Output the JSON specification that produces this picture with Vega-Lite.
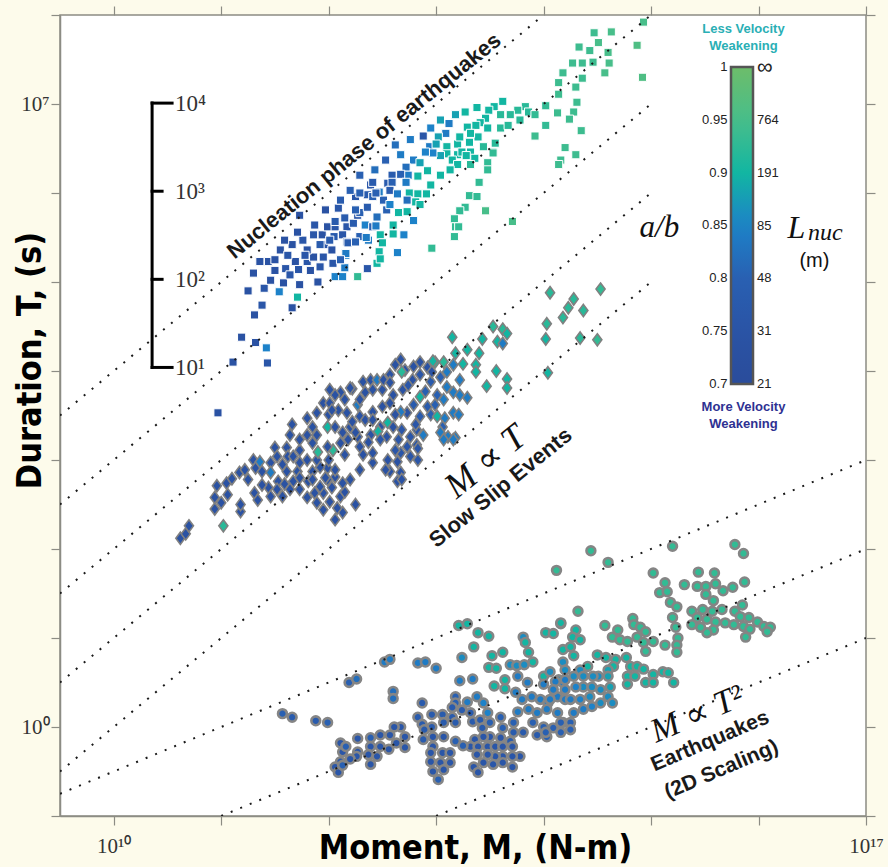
{
"$schema":"https://vega.github.io/schema/vega-lite/v6.json",
"width":806,"height":801,
"autosize":{"type":"none"},
"padding":{"left":60,"top":15,"right":22,"bottom":51},
"background":"#fdfbeb",
"config":{"view":{"fill":"white","stroke":"#8c8c84","strokeWidth":1.5},"font":"Liberation Sans","axis":{"grid":false,"tickColor":"#8c8c84","domainColor":"#8c8c84","tickSize":9,"tickWidth":1.2,"domainWidth":1.5,"labelOverlap":false,"labelFlush":false}},
"datasets":{
"lines":[{"id":"a","x":9.5,"y":3.5},{"id":"a","x":14,"y":8},{"id":"b","x":9.5,"y":2.5},{"id":"b","x":15,"y":8},{"id":"c","x":9.5,"y":1.5},{"id":"c","x":15,"y":7},{"id":"d","x":9.5,"y":0.5},{"id":"d","x":15,"y":6},{"id":"e","x":9.5,"y":-0.5},{"id":"e","x":15,"y":5},{"id":"f","x":9.5,"y":-0.75},{"id":"f","x":17,"y":3},{"id":"g","x":11,"y":-1},{"id":"g","x":17,"y":2},{"id":"h","x":13,"y":-1},{"id":"h","x":17,"y":1}],
"squares":[{"x":11.11,"y":4.10,"c":0.74},{"x":11.43,"y":4.09,"c":0.76},{"x":11.42,"y":4.26,"c":0.85},{"x":11.32,"y":4.32,"c":0.74},{"x":11.19,"y":4.38,"c":0.74},{"x":11.31,"y":4.63,"c":0.74},{"x":11.38,"y":4.74,"c":0.76},{"x":11.66,"y":4.71,"c":0.74},{"x":11.25,"y":4.90,"c":0.74},{"x":11.40,"y":4.93,"c":0.76},{"x":11.30,"y":5.10,"c":0.74},{"x":11.54,"y":4.89,"c":0.85},{"x":11.71,"y":4.83,"c":0.9},{"x":11.58,"y":4.99,"c":0.74},{"x":11.50,"y":5.13,"c":0.74},{"x":11.60,"y":5.15,"c":0.76},{"x":11.69,"y":5.23,"c":0.74},{"x":11.72,"y":5.14,"c":0.76},{"x":11.83,"y":5.13,"c":0.74},{"x":11.92,"y":5.17,"c":0.76},{"x":11.90,"y":5.00,"c":0.74},{"x":11.80,"y":5.23,"c":0.76},{"x":11.86,"y":5.28,"c":0.74},{"x":11.95,"y":5.28,"c":0.76},{"x":11.36,"y":5.23,"c":0.74},{"x":11.44,"y":5.23,"c":0.74},{"x":11.55,"y":5.36,"c":0.74},{"x":11.62,"y":5.30,"c":0.76},{"x":11.66,"y":5.42,"c":0.74},{"x":11.76,"y":5.47,"c":0.76},{"x":11.80,"y":5.36,"c":0.74},{"x":11.71,"y":5.56,"c":0.74},{"x":11.86,"y":5.53,"c":0.76},{"x":11.94,"y":5.53,"c":0.74},{"x":11.96,"y":5.42,"c":0.76},{"x":12.03,"y":5.36,"c":0.74},{"x":12.04,"y":5.21,"c":0.76},{"x":11.99,"y":5.62,"c":0.74},{"x":12.06,"y":5.62,"c":0.76},{"x":11.97,"y":5.81,"c":0.74},{"x":12.09,"y":5.83,"c":0.76},{"x":12.15,"y":5.72,"c":0.78},{"x":12.17,"y":5.62,"c":0.76},{"x":12.13,"y":5.53,"c":0.76},{"x":12.17,"y":5.45,"c":0.78},{"x":12.16,"y":5.30,"c":0.85},{"x":12.06,"y":5.06,"c":0.85},{"x":12.15,"y":5.16,"c":0.84},{"x":12.27,"y":5.06,"c":0.93},{"x":12.23,"y":5.66,"c":0.78},{"x":12.27,"y":5.75,"c":0.76},{"x":12.29,"y":5.78,"c":0.8},{"x":12.25,"y":5.96,"c":0.76},{"x":12.36,"y":5.98,"c":0.78},{"x":12.39,"y":6.09,"c":0.76},{"x":12.47,"y":6.01,"c":0.84},{"x":12.54,"y":5.81,"c":0.8},{"x":12.36,"y":5.84,"c":0.78},{"x":12.45,"y":5.73,"c":0.82},{"x":12.34,"y":5.64,"c":0.85},{"x":12.41,"y":5.62,"c":0.8},{"x":12.37,"y":5.47,"c":0.84},{"x":12.48,"y":5.53,"c":0.9},{"x":12.50,"y":5.44,"c":0.9},{"x":12.47,"y":5.34,"c":0.9},{"x":12.45,"y":5.21,"c":0.9},{"x":12.36,"y":5.15,"c":0.76},{"x":12.55,"y":6.11,"c":0.78},{"x":12.29,"y":5.51,"c":0.8},{"x":12.18,"y":5.44,"c":0.78},{"x":12.79,"y":6.37,"c":0.84},{"x":12.72,"y":6.29,"c":0.82},{"x":12.85,"y":6.34,"c":0.88},{"x":12.92,"y":6.25,"c":0.9},{"x":12.83,"y":6.19,"c":0.9},{"x":12.74,"y":6.20,"c":0.84},{"x":12.67,"y":6.21,"c":0.8},{"x":12.59,"y":6.20,"c":0.78},{"x":12.59,"y":6.12,"c":0.8},{"x":12.72,"y":6.12,"c":0.84},{"x":12.57,"y":6.03,"c":0.78},{"x":12.64,"y":5.99,"c":0.84},{"x":12.75,"y":6.00,"c":0.9},{"x":12.83,"y":5.99,"c":0.9},{"x":12.91,"y":5.99,"c":0.9},{"x":12.81,"y":5.90,"c":0.9},{"x":12.73,"y":5.92,"c":0.82},{"x":12.65,"y":5.78,"c":0.9},{"x":12.73,"y":5.79,"c":0.9},{"x":12.79,"y":5.69,"c":0.85},{"x":12.60,"y":5.64,"c":0.9},{"x":12.60,"y":5.54,"c":0.9},{"x":12.70,"y":5.53,"c":0.85},{"x":12.48,"y":5.26,"c":0.9},{"x":12.64,"y":5.33,"c":0.85},{"x":12.96,"y":5.38,"c":0.93},{"x":12.13,"y":5.06,"c":0.85},{"x":12.16,"y":5.32,"c":0.84},{"x":12.25,"y":5.45,"c":0.8},{"x":12.35,"y":5.50,"c":0.84},{"x":12.06,"y":5.68,"c":0.78},{"x":12.05,"y":5.51,"c":0.78},{"x":12.25,"y":5.81,"c":0.8},{"x":12.44,"y":5.63,"c":0.84},{"x":12.41,"y":5.96,"c":0.8},{"x":12.29,"y":6.00,"c":0.8},{"x":12.51,"y":5.92,"c":0.8},{"x":14.93,"y":7.92,"c":0.95},{"x":14.63,"y":7.81,"c":0.95},{"x":14.47,"y":7.80,"c":0.94},{"x":14.51,"y":7.69,"c":0.95},{"x":14.33,"y":7.64,"c":0.94},{"x":14.43,"y":7.60,"c":0.94},{"x":14.60,"y":7.58,"c":0.95},{"x":14.87,"y":7.66,"c":0.96},{"x":14.27,"y":7.46,"c":0.94},{"x":14.36,"y":7.46,"c":0.94},{"x":14.46,"y":7.47,"c":0.94},{"x":14.61,"y":7.46,"c":0.95},{"x":14.57,"y":7.35,"c":0.95},{"x":14.18,"y":7.35,"c":0.94},{"x":14.36,"y":7.29,"c":0.94},{"x":14.14,"y":7.24,"c":0.94},{"x":14.30,"y":7.19,"c":0.94},{"x":14.92,"y":7.30,"c":0.96},{"x":14.14,"y":7.11,"c":0.94},{"x":14.31,"y":7.02,"c":0.94},{"x":14.13,"y":6.90,"c":0.94},{"x":14.28,"y":6.91,"c":0.94},{"x":14.24,"y":6.83,"c":0.94},{"x":14.35,"y":6.70,"c":0.94},{"x":14.02,"y":6.98,"c":0.93},{"x":13.92,"y":6.64,"c":0.94},{"x":14.20,"y":6.51,"c":0.94},{"x":14.30,"y":6.43,"c":0.94},{"x":14.16,"y":6.37,"c":0.94},{"x":14.14,"y":6.32,"c":0.94},{"x":13.62,"y":7.03,"c":0.9},{"x":13.54,"y":6.97,"c":0.9},{"x":13.38,"y":6.96,"c":0.9},{"x":13.49,"y":6.93,"c":0.9},{"x":13.83,"y":6.97,"c":0.92},{"x":13.76,"y":6.93,"c":0.92},{"x":13.86,"y":6.91,"c":0.92},{"x":13.69,"y":6.88,"c":0.92},{"x":13.46,"y":6.84,"c":0.9},{"x":13.41,"y":6.79,"c":0.9},{"x":13.60,"y":6.73,"c":0.92},{"x":13.67,"y":6.76,"c":0.92},{"x":13.12,"y":6.78,"c":0.84},{"x":13.09,"y":6.67,"c":0.84},{"x":13.29,"y":6.74,"c":0.9},{"x":13.37,"y":6.76,"c":0.9},{"x":13.48,"y":6.73,"c":0.9},{"x":13.02,"y":6.63,"c":0.88},{"x":12.88,"y":6.64,"c":0.76},{"x":12.94,"y":6.52,"c":0.84},{"x":13.00,"y":6.55,"c":0.88},{"x":13.10,"y":6.52,"c":0.9},{"x":13.20,"y":6.55,"c":0.9},{"x":13.31,"y":6.57,"c":0.9},{"x":13.39,"y":6.63,"c":0.9},{"x":13.22,"y":6.63,"c":0.9},{"x":13.32,"y":6.67,"c":0.9},{"x":13.55,"y":6.56,"c":0.92},{"x":13.53,"y":6.46,"c":0.92},{"x":13.44,"y":6.52,"c":0.92},{"x":13.10,"y":6.44,"c":0.9},{"x":13.20,"y":6.43,"c":0.9},{"x":13.24,"y":6.46,"c":0.9},{"x":13.32,"y":6.46,"c":0.9},{"x":13.36,"y":6.39,"c":0.9},{"x":13.15,"y":6.37,"c":0.9},{"x":13.04,"y":6.42,"c":0.88},{"x":12.97,"y":6.45,"c":0.85},{"x":12.90,"y":6.46,"c":0.85},{"x":13.20,"y":6.32,"c":0.9},{"x":13.48,"y":6.34,"c":0.93},{"x":13.48,"y":6.26,"c":0.93},{"x":12.41,"y":6.12,"c":0.78},{"x":12.44,"y":6.00,"c":0.8},{"x":13.40,"y":6.12,"c":0.93},{"x":13.31,"y":5.97,"c":0.93},{"x":13.38,"y":5.96,"c":0.93},{"x":13.27,"y":5.84,"c":0.93},{"x":13.22,"y":5.80,"c":0.93},{"x":13.46,"y":5.80,"c":0.95},{"x":13.17,"y":5.71,"c":0.93},{"x":13.18,"y":5.62,"c":0.93},{"x":13.21,"y":5.62,"c":0.93},{"x":13.17,"y":5.51,"c":0.93},{"x":13.71,"y":5.68,"c":0.95},{"x":13.28,"y":6.42,"c":0.9},{"x":13.53,"y":6.45,"c":0.93},{"x":10.97,"y":3.53,"c":0.74},{"x":11.46,"y":5.02,"c":0.74},{"x":11.64,"y":5.08,"c":0.76},{"x":11.73,"y":4.97,"c":0.74},{"x":11.78,"y":5.30,"c":0.76},{"x":11.92,"y":5.42,"c":0.78},{"x":12.11,"y":5.25,"c":0.8},{"x":12.01,"y":5.47,"c":0.78},{"x":11.87,"y":5.64,"c":0.76},{"x":12.11,"y":5.92,"c":0.78},{"x":12.20,"y":6.03,"c":0.8},{"x":12.29,"y":6.20,"c":0.8},{"x":12.43,"y":6.26,"c":0.82},{"x":12.53,"y":6.37,"c":0.8},{"x":12.67,"y":6.43,"c":0.84},{"x":12.62,"y":6.54,"c":0.82},{"x":12.76,"y":6.60,"c":0.84},{"x":12.95,"y":6.73,"c":0.85},{"x":13.04,"y":6.82,"c":0.88},{"x":13.18,"y":6.88,"c":0.88},{"x":13.27,"y":6.91,"c":0.9},{"x":13.60,"y":6.88,"c":0.92},{"x":13.78,"y":6.82,"c":0.92},{"x":13.92,"y":6.88,"c":0.93},{"x":14.02,"y":6.76,"c":0.93},{"x":11.73,"y":5.75,"c":0.74},{"x":11.59,"y":5.47,"c":0.74},{"x":11.50,"y":5.25,"c":0.74},{"x":12.57,"y":5.87,"c":0.85},{"x":12.85,"y":5.87,"c":0.9},{"x":12.95,"y":6.09,"c":0.9},{"x":13.04,"y":6.20,"c":0.9},{"x":13.13,"y":6.26,"c":0.9},{"x":13.32,"y":6.32,"c":0.92}],
"diamonds":[{"x":10.62,"y":2.12,"c":0.74},{"x":10.67,"y":2.17,"c":0.74},{"x":10.70,"y":2.26,"c":0.74},{"x":11.02,"y":2.26,"c":0.92},{"x":10.94,"y":2.45,"c":0.74},{"x":10.94,"y":2.58,"c":0.74},{"x":10.96,"y":2.71,"c":0.74},{"x":11.05,"y":2.74,"c":0.74},{"x":11.06,"y":2.61,"c":0.74},{"x":11.00,"y":2.52,"c":0.74},{"x":11.10,"y":2.79,"c":0.74},{"x":11.17,"y":2.86,"c":0.74},{"x":11.25,"y":2.78,"c":0.74},{"x":11.18,"y":2.42,"c":0.74},{"x":11.30,"y":3.00,"c":0.74},{"x":11.32,"y":2.91,"c":0.74},{"x":11.36,"y":2.98,"c":0.84},{"x":11.46,"y":2.97,"c":0.74},{"x":11.38,"y":2.87,"c":0.74},{"x":11.46,"y":2.86,"c":0.84},{"x":11.31,"y":2.63,"c":0.74},{"x":11.34,"y":2.55,"c":0.74},{"x":11.44,"y":2.69,"c":0.74},{"x":11.46,"y":2.59,"c":0.74},{"x":11.50,"y":3.14,"c":0.74},{"x":11.61,"y":3.14,"c":0.74},{"x":11.52,"y":3.04,"c":0.74},{"x":11.62,"y":3.04,"c":0.74},{"x":11.53,"y":2.76,"c":0.74},{"x":11.59,"y":2.73,"c":0.74},{"x":11.67,"y":2.76,"c":0.74},{"x":11.52,"y":2.67,"c":0.74},{"x":11.71,"y":2.87,"c":0.74},{"x":11.73,"y":2.97,"c":0.74},{"x":11.80,"y":3.00,"c":0.74},{"x":11.85,"y":2.87,"c":0.74},{"x":11.81,"y":2.76,"c":0.74},{"x":11.73,"y":2.67,"c":0.74},{"x":11.80,"y":2.58,"c":0.74},{"x":11.87,"y":2.63,"c":0.74},{"x":11.89,"y":2.52,"c":0.74},{"x":11.95,"y":2.44,"c":0.74},{"x":12.01,"y":2.53,"c":0.74},{"x":11.95,"y":2.63,"c":0.74},{"x":12.03,"y":2.69,"c":0.74},{"x":12.11,"y":2.59,"c":0.74},{"x":12.13,"y":2.41,"c":0.74},{"x":12.08,"y":2.46,"c":0.74},{"x":12.15,"y":2.64,"c":0.74},{"x":12.13,"y":2.74,"c":0.74},{"x":12.06,"y":2.81,"c":0.74},{"x":11.99,"y":2.91,"c":0.74},{"x":11.92,"y":2.92,"c":0.74},{"x":11.89,"y":3.00,"c":0.74},{"x":12.00,"y":3.00,"c":0.74},{"x":12.04,"y":3.11,"c":0.92},{"x":11.99,"y":3.15,"c":0.74},{"x":11.90,"y":3.09,"c":0.92},{"x":11.80,"y":3.28,"c":0.74},{"x":11.89,"y":3.28,"c":0.74},{"x":11.85,"y":3.37,"c":0.74},{"x":11.66,"y":3.40,"c":0.74},{"x":11.80,"y":3.47,"c":0.74},{"x":11.89,"y":3.53,"c":0.74},{"x":11.95,"y":3.64,"c":0.74},{"x":12.01,"y":3.64,"c":0.74},{"x":12.09,"y":3.56,"c":0.74},{"x":12.00,"y":3.51,"c":0.74},{"x":11.99,"y":3.37,"c":0.9},{"x":12.06,"y":3.37,"c":0.74},{"x":12.13,"y":3.31,"c":0.74},{"x":12.11,"y":3.19,"c":0.74},{"x":12.20,"y":3.37,"c":0.74},{"x":12.18,"y":3.23,"c":0.74},{"x":12.27,"y":3.26,"c":0.74},{"x":12.22,"y":3.43,"c":0.74},{"x":12.17,"y":3.53,"c":0.74},{"x":12.29,"y":3.49,"c":0.74},{"x":12.27,"y":3.62,"c":0.84},{"x":12.22,"y":3.80,"c":0.74},{"x":12.32,"y":3.88,"c":0.74},{"x":12.39,"y":3.90,"c":0.74},{"x":12.45,"y":3.90,"c":0.84},{"x":12.34,"y":3.76,"c":0.74},{"x":12.41,"y":3.79,"c":0.74},{"x":12.50,"y":3.79,"c":0.74},{"x":12.51,"y":3.90,"c":0.74},{"x":12.57,"y":3.96,"c":0.74},{"x":12.67,"y":4.13,"c":0.74},{"x":12.71,"y":4.01,"c":0.74},{"x":12.79,"y":4.05,"c":0.74},{"x":12.85,"y":4.10,"c":0.74},{"x":12.68,"y":3.99,"c":0.92},{"x":12.92,"y":4.04,"c":0.74},{"x":12.99,"y":4.10,"c":0.92},{"x":13.07,"y":4.10,"c":0.92},{"x":13.15,"y":4.38,"c":0.9},{"x":13.16,"y":4.07,"c":0.84},{"x":12.57,"y":3.87,"c":0.74},{"x":12.60,"y":3.73,"c":0.74},{"x":12.69,"y":3.79,"c":0.74},{"x":12.78,"y":3.90,"c":0.74},{"x":12.85,"y":3.96,"c":0.76},{"x":12.95,"y":3.88,"c":0.78},{"x":13.04,"y":3.93,"c":0.8},{"x":13.10,"y":3.82,"c":0.84},{"x":13.16,"y":3.76,"c":0.84},{"x":13.07,"y":3.68,"c":0.84},{"x":13.01,"y":3.73,"c":0.8},{"x":12.85,"y":3.71,"c":0.9},{"x":12.79,"y":3.62,"c":0.78},{"x":12.73,"y":3.53,"c":0.74},{"x":12.67,"y":3.54,"c":0.84},{"x":12.85,"y":3.49,"c":0.78},{"x":12.95,"y":3.51,"c":0.8},{"x":13.01,"y":3.49,"c":0.9},{"x":13.08,"y":3.47,"c":0.84},{"x":13.16,"y":3.53,"c":0.84},{"x":13.06,"y":3.37,"c":0.8},{"x":13.11,"y":3.26,"c":0.84},{"x":13.18,"y":3.25,"c":0.84},{"x":12.92,"y":3.60,"c":0.78},{"x":12.57,"y":3.64,"c":0.74},{"x":12.50,"y":3.60,"c":0.74},{"x":12.41,"y":3.54,"c":0.74},{"x":12.34,"y":3.45,"c":0.74},{"x":12.41,"y":3.45,"c":0.74},{"x":12.48,"y":3.37,"c":0.74},{"x":12.55,"y":3.42,"c":0.9},{"x":12.46,"y":3.32,"c":0.9},{"x":12.39,"y":3.28,"c":0.74},{"x":12.54,"y":3.26,"c":0.74},{"x":12.60,"y":3.37,"c":0.74},{"x":12.68,"y":3.34,"c":0.76},{"x":12.65,"y":3.23,"c":0.76},{"x":12.76,"y":3.26,"c":0.76},{"x":12.82,"y":3.34,"c":0.76},{"x":12.88,"y":3.28,"c":0.84},{"x":12.73,"y":3.15,"c":0.76},{"x":12.82,"y":3.17,"c":0.76},{"x":12.67,"y":3.08,"c":0.76},{"x":12.76,"y":3.04,"c":0.76},{"x":12.83,"y":3.00,"c":0.76},{"x":12.55,"y":3.00,"c":0.74},{"x":12.64,"y":2.98,"c":0.74},{"x":12.57,"y":2.87,"c":0.74},{"x":12.67,"y":2.86,"c":0.74},{"x":12.64,"y":2.76,"c":0.74},{"x":12.68,"y":2.78,"c":0.74},{"x":12.41,"y":2.97,"c":0.74},{"x":12.41,"y":3.08,"c":0.74},{"x":12.32,"y":3.06,"c":0.74},{"x":12.37,"y":3.20,"c":0.74},{"x":12.29,"y":3.15,"c":0.74},{"x":12.25,"y":3.31,"c":0.74},{"x":12.20,"y":3.81,"c":0.74},{"x":12.11,"y":3.76,"c":0.74},{"x":12.03,"y":3.56,"c":0.74},{"x":11.61,"y":2.87,"c":0.74},{"x":11.67,"y":3.04,"c":0.74},{"x":11.73,"y":3.11,"c":0.74},{"x":11.85,"y":3.19,"c":0.74},{"x":11.57,"y":2.59,"c":0.74},{"x":11.85,"y":2.78,"c":0.74},{"x":11.92,"y":2.70,"c":0.74},{"x":11.99,"y":2.78,"c":0.74},{"x":11.18,"y":2.50,"c":0.74},{"x":14.53,"y":4.92,"c":0.93},{"x":14.06,"y":4.88,"c":0.92},{"x":14.28,"y":4.81,"c":0.92},{"x":14.23,"y":4.71,"c":0.92},{"x":14.37,"y":4.68,"c":0.92},{"x":14.18,"y":4.60,"c":0.92},{"x":14.03,"y":4.53,"c":0.92},{"x":14.02,"y":4.36,"c":0.9},{"x":14.34,"y":4.37,"c":0.92},{"x":14.50,"y":4.35,"c":0.93},{"x":14.04,"y":3.98,"c":0.9},{"x":13.53,"y":4.50,"c":0.92},{"x":13.62,"y":4.47,"c":0.92},{"x":13.66,"y":4.42,"c":0.9},{"x":13.43,"y":4.36,"c":0.9},{"x":13.57,"y":4.33,"c":0.9},{"x":13.62,"y":4.31,"c":0.84},{"x":13.29,"y":4.24,"c":0.9},{"x":13.40,"y":4.20,"c":0.9},{"x":13.37,"y":4.07,"c":0.9},{"x":13.37,"y":3.99,"c":0.9},{"x":13.56,"y":4.00,"c":0.9},{"x":13.47,"y":3.83,"c":0.9},{"x":13.66,"y":3.91,"c":0.9},{"x":13.66,"y":3.81,"c":0.9},{"x":12.97,"y":4.11,"c":0.9},{"x":13.25,"y":4.08,"c":0.9},{"x":13.18,"y":4.20,"c":0.9},{"x":13.29,"y":3.70,"c":0.84},{"x":13.21,"y":3.51,"c":0.84},{"x":13.04,"y":3.31,"c":0.84},{"x":13.07,"y":3.23,"c":0.84},{"x":13.16,"y":3.23,"c":0.84},{"x":12.83,"y":3.13,"c":0.76},{"x":12.62,"y":4.07,"c":0.74},{"x":12.74,"y":3.84,"c":0.76},{"x":12.90,"y":3.77,"c":0.8},{"x":12.96,"y":3.99,"c":0.74},{"x":13.10,"y":3.99,"c":0.84},{"x":13.22,"y":3.90,"c":0.84},{"x":13.22,"y":3.73,"c":0.84},{"x":12.99,"y":3.62,"c":0.8},{"x":12.81,"y":3.40,"c":0.76},{"x":12.62,"y":3.51,"c":0.74},{"x":12.15,"y":3.68,"c":0.74},{"x":12.06,"y":3.73,"c":0.74},{"x":12.29,"y":3.68,"c":0.74},{"x":12.15,"y":3.06,"c":0.74},{"x":12.06,"y":2.89,"c":0.74},{"x":11.97,"y":2.80,"c":0.74},{"x":11.73,"y":2.80,"c":0.74},{"x":11.64,"y":2.67,"c":0.74},{"x":11.38,"y":2.72,"c":0.74},{"x":11.22,"y":2.89,"c":0.74},{"x":11.73,"y":3.23,"c":0.74},{"x":11.64,"y":3.28,"c":0.74},{"x":11.57,"y":2.95,"c":0.74},{"x":12.01,"y":3.79,"c":0.74},{"x":12.48,"y":3.23,"c":0.76},{"x":12.62,"y":3.11,"c":0.76},{"x":12.53,"y":2.89,"c":0.74},{"x":12.29,"y":2.89,"c":0.74},{"x":12.20,"y":2.78,"c":0.74},{"x":12.25,"y":2.50,"c":0.74},{"x":12.06,"y":2.33,"c":0.74}],
"circles":[{"x":11.57,"y":0.15,"c":0.8},{"x":11.66,"y":0.11,"c":0.78},{"x":11.88,"y":0.07,"c":0.78},{"x":11.99,"y":0.05,"c":0.8},{"x":12.19,"y":0.50,"c":0.8},{"x":12.26,"y":0.54,"c":0.82},{"x":12.52,"y":0.73,"c":0.84},{"x":12.57,"y":0.76,"c":0.84},{"x":12.60,"y":0.40,"c":0.82},{"x":12.60,"y":0.32,"c":0.82},{"x":12.83,"y":0.72,"c":0.84},{"x":12.90,"y":0.73,"c":0.84},{"x":13.00,"y":0.66,"c":0.84},{"x":13.21,"y":1.14,"c":0.9},{"x":13.29,"y":1.16,"c":0.9},{"x":13.39,"y":1.06,"c":0.9},{"x":13.49,"y":1.02,"c":0.9},{"x":13.35,"y":0.90,"c":0.9},{"x":13.24,"y":0.78,"c":0.86},{"x":13.52,"y":0.80,"c":0.9},{"x":13.62,"y":0.84,"c":0.9},{"x":13.49,"y":0.67,"c":0.9},{"x":13.56,"y":0.66,"c":0.9},{"x":13.22,"y":0.52,"c":0.84},{"x":13.34,"y":0.54,"c":0.84},{"x":13.54,"y":0.46,"c":0.9},{"x":13.64,"y":0.53,"c":0.9},{"x":13.64,"y":0.43,"c":0.9},{"x":13.69,"y":0.70,"c":0.86},{"x":13.75,"y":0.69,"c":0.86},{"x":13.82,"y":0.70,"c":0.86},{"x":13.81,"y":1.01,"c":0.86},{"x":13.83,"y":0.95,"c":0.9},{"x":13.86,"y":0.84,"c":0.9},{"x":13.90,"y":0.73,"c":0.9},{"x":14.02,"y":1.06,"c":0.9},{"x":14.09,"y":1.05,"c":0.9},{"x":14.16,"y":1.16,"c":0.9},{"x":14.18,"y":0.87,"c":0.9},{"x":14.18,"y":0.73,"c":0.86},{"x":14.00,"y":0.57,"c":0.9},{"x":14.06,"y":0.62,"c":0.86},{"x":14.14,"y":0.53,"c":0.86},{"x":14.18,"y":0.50,"c":0.84},{"x":13.76,"y":0.57,"c":0.84},{"x":13.85,"y":0.50,"c":0.84},{"x":13.74,"y":0.39,"c":0.84},{"x":13.80,"y":0.31,"c":0.84},{"x":13.89,"y":0.34,"c":0.84},{"x":13.97,"y":0.31,"c":0.84},{"x":14.04,"y":0.27,"c":0.84},{"x":14.13,"y":0.34,"c":0.84},{"x":14.20,"y":0.31,"c":0.84},{"x":13.18,"y":0.34,"c":0.8},{"x":13.18,"y":0.27,"c":0.8},{"x":13.29,"y":0.28,"c":0.84},{"x":13.38,"y":0.34,"c":0.84},{"x":13.44,"y":0.27,"c":0.85},{"x":13.48,"y":0.16,"c":0.85},{"x":13.32,"y":0.16,"c":0.78},{"x":13.24,"y":0.19,"c":0.78},{"x":13.15,"y":0.22,"c":0.78},{"x":13.15,"y":0.11,"c":0.78},{"x":13.06,"y":0.14,"c":0.78},{"x":12.96,"y":0.14,"c":0.78},{"x":12.87,"y":0.27,"c":0.78},{"x":12.83,"y":0.11,"c":0.78},{"x":12.87,"y":0.03,"c":0.78},{"x":12.96,"y":0.00,"c":0.78},{"x":13.07,"y":0.05,"c":0.78},{"x":13.18,"y":0.05,"c":0.78},{"x":13.34,"y":0.06,"c":0.78},{"x":13.41,"y":0.08,"c":0.78},{"x":13.43,"y":-0.01,"c":0.78},{"x":13.50,"y":0.05,"c":0.8},{"x":13.60,"y":0.11,"c":0.8},{"x":13.62,"y":-0.01,"c":0.8},{"x":13.72,"y":0.05,"c":0.8},{"x":13.76,"y":0.17,"c":0.84},{"x":13.86,"y":0.20,"c":0.84},{"x":13.94,"y":0.16,"c":0.84},{"x":14.03,"y":0.20,"c":0.84},{"x":14.13,"y":0.16,"c":0.84},{"x":14.18,"y":0.05,"c":0.84},{"x":13.90,"y":0.05,"c":0.8},{"x":14.00,"y":0.00,"c":0.8},{"x":14.09,"y":-0.01,"c":0.8},{"x":14.03,"y":-0.11,"c":0.8},{"x":14.16,"y":-0.06,"c":0.8},{"x":13.94,"y":-0.09,"c":0.78},{"x":13.81,"y":-0.06,"c":0.78},{"x":13.72,"y":-0.06,"c":0.78},{"x":13.69,"y":-0.16,"c":0.78},{"x":13.60,"y":-0.12,"c":0.76},{"x":13.50,"y":-0.11,"c":0.76},{"x":13.44,"y":-0.11,"c":0.76},{"x":13.36,"y":-0.14,"c":0.76},{"x":13.32,"y":-0.22,"c":0.76},{"x":13.39,"y":-0.22,"c":0.76},{"x":13.48,"y":-0.22,"c":0.76},{"x":13.55,"y":-0.22,"c":0.76},{"x":13.62,"y":-0.22,"c":0.76},{"x":13.71,"y":-0.22,"c":0.76},{"x":13.78,"y":-0.33,"c":0.76},{"x":13.71,"y":-0.33,"c":0.76},{"x":13.62,"y":-0.33,"c":0.76},{"x":13.55,"y":-0.33,"c":0.76},{"x":13.48,"y":-0.31,"c":0.76},{"x":13.38,"y":-0.31,"c":0.76},{"x":13.35,"y":-0.45,"c":0.76},{"x":13.44,"y":-0.40,"c":0.76},{"x":13.53,"y":-0.42,"c":0.76},{"x":13.62,"y":-0.40,"c":0.76},{"x":13.71,"y":-0.45,"c":0.76},{"x":13.39,"y":-0.51,"c":0.76},{"x":12.89,"y":-0.03,"c":0.78},{"x":12.88,"y":-0.14,"c":0.78},{"x":12.97,"y":-0.11,"c":0.76},{"x":13.07,"y":-0.11,"c":0.76},{"x":12.97,"y":-0.22,"c":0.76},{"x":12.95,"y":-0.29,"c":0.76},{"x":13.06,"y":-0.29,"c":0.76},{"x":13.13,"y":-0.29,"c":0.76},{"x":12.95,"y":-0.39,"c":0.76},{"x":13.04,"y":-0.40,"c":0.76},{"x":13.13,"y":-0.40,"c":0.76},{"x":12.97,"y":-0.50,"c":0.76},{"x":13.07,"y":-0.48,"c":0.76},{"x":13.02,"y":-0.59,"c":0.8},{"x":13.18,"y":-0.16,"c":0.8},{"x":13.25,"y":-0.21,"c":0.8},{"x":12.67,"y":0.00,"c":0.76},{"x":12.61,"y":0.00,"c":0.76},{"x":12.71,"y":-0.11,"c":0.76},{"x":12.63,"y":-0.18,"c":0.76},{"x":12.71,"y":-0.23,"c":0.76},{"x":12.57,"y":-0.09,"c":0.76},{"x":12.48,"y":-0.09,"c":0.76},{"x":12.39,"y":-0.12,"c":0.8},{"x":12.27,"y":-0.13,"c":0.76},{"x":12.39,"y":-0.22,"c":0.76},{"x":12.48,"y":-0.22,"c":0.76},{"x":12.56,"y":-0.25,"c":0.76},{"x":12.37,"y":-0.31,"c":0.76},{"x":12.39,"y":-0.42,"c":0.76},{"x":12.27,"y":-0.28,"c":0.76},{"x":12.26,"y":-0.33,"c":0.76},{"x":12.20,"y":-0.36,"c":0.76},{"x":12.13,"y":-0.28,"c":0.76},{"x":12.11,"y":-0.18,"c":0.76},{"x":12.11,"y":-0.39,"c":0.76},{"x":12.06,"y":-0.45,"c":0.76},{"x":12.09,"y":-0.51,"c":0.76},{"x":12.13,"y":-0.43,"c":0.8},{"x":12.16,"y":-0.22,"c":0.8},{"x":12.45,"y":-0.33,"c":0.76},{"x":14.44,"y":1.98,"c":0.93},{"x":14.12,"y":1.76,"c":0.93},{"x":14.60,"y":1.85,"c":0.93},{"x":15.20,"y":2.03,"c":0.93},{"x":15.78,"y":2.05,"c":0.93},{"x":15.86,"y":1.95,"c":0.93},{"x":15.02,"y":1.73,"c":0.93},{"x":15.44,"y":1.74,"c":0.93},{"x":15.59,"y":1.73,"c":0.93},{"x":15.13,"y":1.62,"c":0.93},{"x":15.31,"y":1.60,"c":0.93},{"x":15.43,"y":1.58,"c":0.93},{"x":15.51,"y":1.58,"c":0.93},{"x":15.60,"y":1.61,"c":0.93},{"x":15.67,"y":1.53,"c":0.93},{"x":15.76,"y":1.57,"c":0.93},{"x":15.87,"y":1.63,"c":0.93},{"x":15.08,"y":1.51,"c":0.93},{"x":15.15,"y":1.52,"c":0.93},{"x":15.51,"y":1.49,"c":0.93},{"x":15.58,"y":1.42,"c":0.93},{"x":15.18,"y":1.40,"c":0.93},{"x":15.24,"y":1.35,"c":0.93},{"x":15.38,"y":1.30,"c":0.93},{"x":15.48,"y":1.32,"c":0.93},{"x":15.57,"y":1.30,"c":0.93},{"x":15.66,"y":1.32,"c":0.93},{"x":15.85,"y":1.37,"c":0.93},{"x":15.78,"y":1.30,"c":0.93},{"x":15.83,"y":1.24,"c":0.93},{"x":15.91,"y":1.23,"c":0.93},{"x":15.99,"y":1.18,"c":0.93},{"x":15.69,"y":1.17,"c":0.93},{"x":15.77,"y":1.15,"c":0.93},{"x":15.86,"y":1.13,"c":0.93},{"x":15.92,"y":1.10,"c":0.93},{"x":15.88,"y":1.01,"c":0.93},{"x":16.05,"y":1.13,"c":0.93},{"x":16.11,"y":1.12,"c":0.93},{"x":16.08,"y":1.07,"c":0.93},{"x":15.43,"y":1.23,"c":0.93},{"x":15.52,"y":1.21,"c":0.93},{"x":15.60,"y":1.18,"c":0.93},{"x":15.58,"y":1.09,"c":0.93},{"x":15.52,"y":1.06,"c":0.93},{"x":15.46,"y":1.12,"c":0.93},{"x":15.38,"y":1.15,"c":0.93},{"x":15.20,"y":1.23,"c":0.93},{"x":15.23,"y":1.12,"c":0.93},{"x":15.25,"y":1.00,"c":0.93},{"x":15.24,"y":0.92,"c":0.93},{"x":15.24,"y":0.84,"c":0.93},{"x":15.13,"y":0.92,"c":0.93},{"x":14.32,"y":1.30,"c":0.93},{"x":14.16,"y":1.17,"c":0.9},{"x":14.30,"y":1.09,"c":0.9},{"x":14.27,"y":1.01,"c":0.9},{"x":14.34,"y":0.98,"c":0.9},{"x":14.25,"y":0.90,"c":0.9},{"x":14.28,"y":0.80,"c":0.9},{"x":14.57,"y":1.14,"c":0.93},{"x":14.69,"y":1.09,"c":0.93},{"x":14.64,"y":1.01,"c":0.93},{"x":14.71,"y":0.98,"c":0.93},{"x":14.78,"y":0.96,"c":0.93},{"x":14.83,"y":1.22,"c":0.93},{"x":14.84,"y":1.15,"c":0.93},{"x":14.90,"y":1.12,"c":0.93},{"x":14.95,"y":1.07,"c":0.93},{"x":14.87,"y":1.01,"c":0.93},{"x":14.93,"y":0.95,"c":0.93},{"x":15.02,"y":0.96,"c":0.93},{"x":14.95,"y":0.85,"c":0.93},{"x":14.77,"y":0.78,"c":0.9},{"x":14.50,"y":0.81,"c":0.9},{"x":14.58,"y":0.78,"c":0.9},{"x":14.67,"y":0.76,"c":0.9},{"x":14.65,"y":0.68,"c":0.9},{"x":14.81,"y":0.68,"c":0.9},{"x":14.87,"y":0.68,"c":0.9},{"x":14.93,"y":0.65,"c":0.9},{"x":15.02,"y":0.59,"c":0.9},{"x":15.11,"y":0.62,"c":0.9},{"x":15.16,"y":0.61,"c":0.9},{"x":15.21,"y":0.50,"c":0.9},{"x":14.78,"y":0.57,"c":0.9},{"x":14.85,"y":0.57,"c":0.9},{"x":14.95,"y":0.50,"c":0.9},{"x":15.02,"y":0.50,"c":0.9},{"x":14.78,"y":0.48,"c":0.9},{"x":14.60,"y":0.64,"c":0.88},{"x":14.51,"y":0.57,"c":0.86},{"x":14.60,"y":0.57,"c":0.88},{"x":14.62,"y":0.45,"c":0.88},{"x":14.53,"y":0.42,"c":0.86},{"x":14.60,"y":0.34,"c":0.86},{"x":14.64,"y":0.27,"c":0.86},{"x":14.41,"y":0.68,"c":0.9},{"x":14.34,"y":0.64,"c":0.86},{"x":14.20,"y":0.64,"c":0.86},{"x":14.00,"y":0.48,"c":0.84},{"x":14.11,"y":0.51,"c":0.84},{"x":14.20,"y":0.53,"c":0.84},{"x":14.28,"y":0.57,"c":0.86},{"x":14.37,"y":0.57,"c":0.86},{"x":14.46,"y":0.57,"c":0.86},{"x":14.37,"y":0.45,"c":0.86},{"x":14.45,"y":0.45,"c":0.86},{"x":14.30,"y":0.45,"c":0.85},{"x":14.20,"y":0.42,"c":0.84},{"x":14.09,"y":0.42,"c":0.84},{"x":14.06,"y":0.31,"c":0.84},{"x":14.25,"y":0.31,"c":0.84},{"x":14.34,"y":0.31,"c":0.85},{"x":14.43,"y":0.34,"c":0.86},{"x":14.53,"y":0.27,"c":0.86},{"x":14.45,"y":0.23,"c":0.85},{"x":14.37,"y":0.20,"c":0.84},{"x":14.28,"y":0.16,"c":0.84},{"x":14.16,"y":0.05,"c":0.8},{"x":14.25,"y":0.05,"c":0.8},{"x":14.02,"y":-0.06,"c":0.8},{"x":14.25,"y":-0.03,"c":0.8}]
},
"encoding":{
"x":{"field":"x","type":"quantitative","scale":{"domain":[9.5,17],"nice":false,"zero":false},"axis":null},
"y":{"field":"y","type":"quantitative","scale":{"domain":[-1,8],"nice":false,"zero":false},"axis":null}
},
"layer":[
{"data":{"name":"squares"},"mark":{"type":"point","shape":"square","filled":true,"size":66,"stroke":"white","strokeWidth":1,"opacity":1},
 "encoding":{
  "x":{"field":"x","type":"quantitative","scale":{"domain":[9.5,17],"nice":false,"zero":false},"axis":{"orient":"top","values":[10,11,12,13,14,15,16,17],"labels":false,"title":null,"domain":false}},
  "y":{"field":"y","type":"quantitative","scale":{"domain":[-1,8],"nice":false,"zero":false},"axis":{"orient":"right","values":[-1,0,1,2,3,4,5,6,7,8],"labels":false,"title":null,"domain":false}},
  "color":{"field":"c","type":"quantitative","scale":{"domain":[0.7,0.75,0.8,0.85,0.9,0.95,1],"range":["#2a4c9b","#2a53a5","#2960b2","#1d82c9","#12b6a2","#48be8a","#6dbd6a"],"interpolate":"rgb"},"legend":null}
 }},
{"data":{"name":"diamonds"},"mark":{"type":"point","shape":"M0,-1L0.74,0L0,1L-0.74,0Z","filled":true,"size":150,"stroke":"#808080","strokeWidth":1.6,"opacity":1},
 "encoding":{"color":{"field":"c","type":"quantitative","scale":{"domain":[0.7,0.75,0.8,0.85,0.9,0.95,1],"range":["#2a4c9b","#2a53a5","#2960b2","#1d82c9","#12b6a2","#48be8a","#6dbd6a"],"interpolate":"rgb"},"legend":null}}},
{"data":{"name":"circles"},"mark":{"type":"point","shape":"circle","filled":true,"size":78,"stroke":"#858585","strokeWidth":2.6,"opacity":1},
 "encoding":{"color":{"field":"c","type":"quantitative","scale":{"domain":[0.7,0.75,0.8,0.85,0.9,0.95,1],"range":["#2a4c9b","#2a53a5","#2960b2","#1d82c9","#12b6a2","#48be8a","#6dbd6a"],"interpolate":"rgb"},"legend":null}}},
{"data":{"name":"squares"},"mark":{"type":"point","shape":"square","opacity":0,"size":1},
 "encoding":{"stroke":{"field":"c","type":"quantitative","scale":{"domain":[0.7,0.75,0.8,0.85,0.9,0.95,1.0001],"range":["#2a4c9b","#2a53a5","#2960b2","#1d82c9","#12b6a2","#48be8a","#6dbd6a"],"interpolate":"rgb"},
  "legend":{"orient":"none","legendX":671,"legendY":52,"title":null,"direction":"vertical","gradientLength":317,"gradientThickness":22,"gradientStrokeColor":"#555555","gradientStrokeWidth":2.5,"values":[0.7,0.75,0.8,0.85,0.9,0.95,1],"labelExpr":"datum.value == 1 ? '∞' : datum.value == 0.95 ? '764' : datum.value == 0.9 ? '191' : datum.value == 0.85 ? '85' : datum.value == 0.8 ? '48' : datum.value == 0.75 ? '31' : '21'","labelOffset":4,"labelFont":"Liberation Sans","labelFontSize":13,"labelColor":"#222222","labelOverlap":false,"padding":0,
   "encode":{"labels":{"update":{"align":{"value":"left"},"baseline":{"value":"middle"},"fontSize":{"signal":"datum.value >= 1 ? 22 : 13"}}}}}}}},
{"data":{"values":[{"x":15.71,"y":7.416,"t":"1"},{"x":15.71,"y":6.823,"t":"0.95"},{"x":15.71,"y":6.229,"t":"0.9"},{"x":15.71,"y":5.636,"t":"0.85"},{"x":15.71,"y":5.043,"t":"0.8"},{"x":15.71,"y":4.449,"t":"0.75"},{"x":15.71,"y":3.856,"t":"0.7"}]},
 "mark":{"type":"text","align":"right","baseline":"middle","font":"Liberation Sans","fontSize":13,"color":"#222222"},
 "encoding":{"text":{"field":"t"}}},
{"data":{"name":"lines"},"mark":{"type":"line","strokeDash":[2,8.3],"strokeWidth":2,"color":"#1a1a1a","clip":true},
 "encoding":{
  "x":{"field":"x","type":"quantitative","scale":{"domain":[9.5,17],"nice":false,"zero":false},"axis":{"orient":"bottom","values":[10,11,12,13,14,15,16,17],"labelExpr":"datum.value == 10 ? '10¹⁰' : datum.value == 17 ? '10¹⁷' : ''","labelFont":"Liberation Serif","labelFontSize":21,"labelColor":"#333333","labelPadding":10,"title":"Moment, M, (N-m)","titleFont":"Liberation Sans Narrow, DejaVu Sans Condensed, sans-serif","titleFontSize":34,"titleFontWeight":"bold","titleColor":"#000000","titleX":415,"titleY":32,"titleAlign":"center","titleBaseline":"middle"}},
  "y":{"field":"y","type":"quantitative","scale":{"domain":[-1,8],"nice":false,"zero":false},"axis":{"orient":"left","values":[-1,0,1,2,3,4,5,6,7,8],"labelExpr":"datum.value == 0 ? '10⁰' : datum.value == 7 ? '10⁷' : ''","labelFont":"Liberation Serif","labelFontSize":21,"labelColor":"#333333","labelPadding":2,"title":"Duration, T, (s)","titleFont":"Liberation Sans Narrow, DejaVu Sans Condensed, sans-serif","titleFontSize":34,"titleFontWeight":"bold","titleColor":"#000000","titleAngle":270,"titleX":-30,"titleY":345,"titleAlign":"center","titleBaseline":"middle"}},
  "detail":{"field":"id","type":"nominal"}
 }},
{"data":{"values":[{"x":10.357,"y":4.04,"x2":10.357,"y2":7.01},{"x":10.357,"y":7.01,"x2":10.543,"y2":7.01},{"x":10.357,"y":6.02,"x2":10.45,"y2":6.02},{"x":10.357,"y":5.03,"x2":10.45,"y2":5.03},{"x":10.357,"y":4.04,"x2":10.543,"y2":4.04}]},
 "mark":{"type":"rule","strokeWidth":3,"color":"#000000","strokeCap":"square"},
 "encoding":{"x2":{"field":"x2"},"y2":{"field":"y2"}}},
{"data":{"values":[{"x":10.57,"y":7.0,"t":"10⁴"},{"x":10.57,"y":6.01,"t":"10³"},{"x":10.57,"y":5.02,"t":"10²"},{"x":10.57,"y":4.03,"t":"10¹"}]},
 "mark":{"type":"text","align":"left","baseline":"middle","font":"Liberation Serif","fontSize":23,"color":"#333333"},
 "encoding":{"text":{"field":"t"}}},
{"data":{"values":[{"x":12.33,"y":6.53,"t":"Nucleation phase of earthquakes"},{"x":13.6,"y":2.69,"t":"Slow Slip Events"}]},
 "mark":{"type":"text","angle":321,"align":"center","baseline":"middle","font":"Liberation Sans","fontWeight":"bold","fontSize":22,"color":"#1a1a1a"},
 "encoding":{"text":{"field":"t"}}},
{"data":{"values":[{"x":13.46,"y":2.98,"t":"M ∝ T"}]},
 "mark":{"type":"text","angle":321,"align":"center","baseline":"middle","font":"Liberation Serif, DejaVu Serif, serif","fontStyle":"italic","fontSize":36,"color":"#111111"},
 "encoding":{"text":{"field":"t"}}},
{"data":{"values":[{"x":15.55,"y":-0.16,"t":"Earthquakes"},{"x":15.655,"y":-0.48,"t":"(2D Scaling)"}]},
 "mark":{"type":"text","angle":337,"align":"center","baseline":"middle","font":"Liberation Sans","fontWeight":"bold","fontSize":21,"color":"#1a1a1a"},
 "encoding":{"text":{"field":"t"}}},
{"data":{"values":[{"x":15.43,"y":0.14,"t":"M ∝ T²"}]},
 "mark":{"type":"text","angle":337,"align":"center","baseline":"middle","font":"Liberation Serif, DejaVu Serif, serif","fontStyle":"italic","fontSize":34,"color":"#111111"},
 "encoding":{"text":{"field":"t"}}},
{"data":{"values":[{"x":15.077,"y":5.61,"t":"a/b"}]},
 "mark":{"type":"text","align":"center","baseline":"middle","font":"Liberation Serif, DejaVu Serif, serif","fontStyle":"italic","fontSize":31,"color":"#111111"},
 "encoding":{"text":{"field":"t"}}},
{"data":{"values":[{"x":16.353,"y":5.50,"t":"L"}]},
 "mark":{"type":"text","align":"center","baseline":"alphabetic","font":"Liberation Serif, DejaVu Serif, serif","fontStyle":"italic","fontSize":32,"color":"#111111"},
 "encoding":{"text":{"field":"t"}}},
{"data":{"values":[{"x":16.46,"y":5.47,"t":"nuc"}]},
 "mark":{"type":"text","align":"left","baseline":"alphabetic","font":"Liberation Serif, DejaVu Serif, serif","fontStyle":"italic","fontSize":24,"color":"#111111"},
 "encoding":{"text":{"field":"t"}}},
{"data":{"values":[{"x":16.52,"y":5.237,"t":"(m)"}]},
 "mark":{"type":"text","align":"center","baseline":"middle","font":"Liberation Sans","fontSize":20,"color":"#111111"},
 "encoding":{"text":{"field":"t"}}},
{"data":{"values":[{"x":15.86,"y":7.843,"t":"Less Velocity\nWeakening"}]},
 "mark":{"type":"text","align":"center","baseline":"middle","lineBreak":"\n","lineHeight":17,"font":"Liberation Sans","fontWeight":"bold","fontSize":13,"color":"#2aafb5"},
 "encoding":{"text":{"field":"t"}}},
{"data":{"values":[{"x":15.86,"y":3.598,"t":"More Velocity\nWeakening"}]},
 "mark":{"type":"text","align":"center","baseline":"middle","lineBreak":"\n","lineHeight":17,"font":"Liberation Sans","fontWeight":"bold","fontSize":13,"color":"#2e3192"},
 "encoding":{"text":{"field":"t"}}}
],
"resolve":{"axis":{"x":"independent","y":"independent"}}
}
